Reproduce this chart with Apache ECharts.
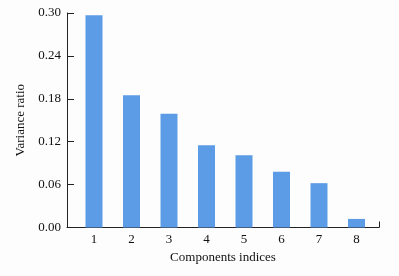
<!DOCTYPE html>
<html><head><meta charset="utf-8">
<script src="https://cdn.jsdelivr.net/npm/echarts@6/dist/echarts.min.js"></script>
<style>html,body{margin:0;padding:0;background:#fdfdfd}#c{width:399px;height:276px}</style>
</head><body><div id="c"></div>
<script>
const categories = [1, 2, 3, 4, 5, 6, 7, 8];
const varianceRatio = [0.297, 0.185, 0.159, 0.115, 0.101, 0.078, 0.062, 0.012];
const yTicks = [0, 0.06, 0.12, 0.18, 0.24, 0.30];

const chart = echarts.init(document.getElementById('c'), null, {renderer: 'canvas'});
const font = 'Liberation Serif';
chart.setOption({
  backgroundColor: '#fdfdfd',
  animation: false,
  grid: {left: 67, right: 20, top: 13, bottom: 48.5},
  xAxis: {
    type: 'value', min: 0.28, max: 8.6,
    name: 'Components indices', nameLocation: 'middle', nameGap: 22,
    nameTextStyle: {fontFamily: font, fontSize: 13, color: '#111'},
    axisLine: {show: true, lineStyle: {color: '#222', width: 1}},
    axisTick: {show: true, inside: true, length: 6, customValues: [8.6], lineStyle: {color: '#222'}},
    axisLabel: {customValues: categories, fontFamily: font, fontSize: 13, color: '#111', margin: 6},
    splitLine: {show: false}
  },
  yAxis: {
    type: 'value', min: 0, max: 0.30, interval: 0.06,
    name: 'Variance ratio', nameLocation: 'middle', nameGap: 38,
    nameTextStyle: {fontFamily: font, fontSize: 13, color: '#111'},
    axisLine: {show: true, lineStyle: {color: '#222', width: 1}},
    axisTick: {show: true, inside: true, length: 7, lineStyle: {color: '#222'}},
    axisLabel: {fontFamily: font, fontSize: 13, color: '#111', margin: 6,
      formatter: v => v.toFixed(2)},
    splitLine: {show: false}
  },
  series: [{
    type: 'bar',
    data: categories.map((c, i) => [c, varianceRatio[i]]),
    barWidth: 17,
    itemStyle: {color: '#5c9be5'}
  }]
});
</script></body></html>
